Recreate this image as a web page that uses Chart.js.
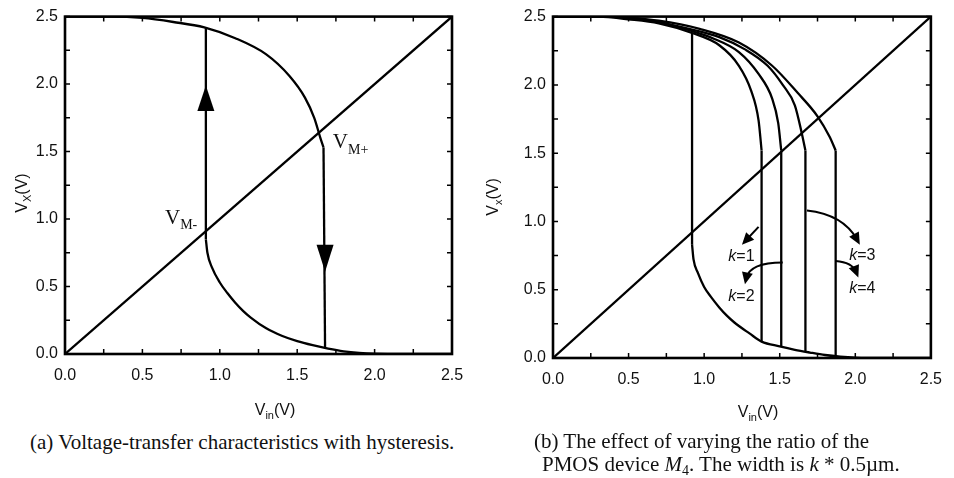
<!DOCTYPE html>
<html lang="en">
<head>
<meta charset="UTF-8">
<title>Inverter VTC with hysteresis</title>
<script src="https://cdn.jsdelivr.net/npm/chart.js@4"></script>
<style>
  body { margin: 0; background: #fff; width: 954px; height: 478px; position: relative; overflow: hidden; }
  .plot { position: absolute; top: 0; }
  .cap { position: absolute; font-family: "Liberation Serif", "Times New Roman", serif; font-size: 21px;
         color: #111; white-space: nowrap; line-height: 23px; }
  .cap sub { font-size: 14px; line-height: 0; vertical-align: -4px; }
</style>
</head>
<body>
<div class="plot" style="left:0"><canvas id="chartA" width="480" height="430"></canvas></div>
<div class="plot" style="left:480px"><canvas id="chartB" width="474" height="430"></canvas></div>
<div class="cap" style="left:30px;top:431px">(a) Voltage-transfer characteristics with hysteresis.</div>
<div class="cap" style="left:534px;top:430px">(b) The effect of varying the ratio of the<br><span style="padding-left:8px">PMOS device <i>M</i><sub>4</sub>. The width is <i>k</i> * 0.5µm.</span></div>

<script>
// axis ticks (volts)
const tickValues = [0, 0.5, 1, 1.5, 2, 2.5];
const minorTicks = [0, 0.25, 0.5, 0.75, 1, 1.25, 1.5, 1.75, 2, 2.25, 2.5];

// reference line Vx = Vin
const diagonal = [[0, 0], [2.5, 2.5]];

// (a) hysteresis loop
const upperA = [[0, 2.5], [0.3, 2.5], [0.5, 2.49], [0.7, 2.46], [0.9, 2.42], [1.1, 2.34], [1.3, 2.22],
                [1.45, 2.06], [1.55, 1.9], [1.61, 1.75], [1.65, 1.6], [1.67, 1.53]];
const dropA = [[1.67, 1.53], [1.68, 0.04]];
const riseA = [[0.91, 0.85], [0.91, 2.42]];
const lowerA = [[0.91, 0.85], [0.92, 0.75], [0.95, 0.64], [1.0, 0.53], [1.05, 0.45], [1.1, 0.38], [1.15, 0.32],
                [1.2, 0.27], [1.3, 0.19], [1.4, 0.135], [1.5, 0.095], [1.6, 0.065], [1.7, 0.04], [1.8, 0.02],
                [1.9, 0.008], [2.0, 0.002], [2.2, 0], [2.5, 0]];
// direction arrows on the switching edges: x, arrow base, arrow tip
const arrowsA = [[0.91, 1.80, 1.99], [1.68, 0.81, 0.61]];

// (b) switching curves for k = 1..4
const k1 = [[0, 2.5], [0.3, 2.5], [0.5, 2.48], [0.7, 2.45], [0.92, 2.38], [1.1, 2.29], [1.23, 2.14],
            [1.31, 1.96], [1.36, 1.74], [1.38, 1.52]];
const k2 = [[0, 2.5], [0.3, 2.5], [0.5, 2.49], [0.7, 2.46], [0.9, 2.4], [1.06, 2.34], [1.23, 2.24],
            [1.36, 2.08], [1.45, 1.9], [1.49, 1.72], [1.51, 1.52]];
const k3 = [[0, 2.5], [0.3, 2.5], [0.5, 2.49], [0.7, 2.46], [0.9, 2.41], [1.1, 2.35], [1.27, 2.26],
            [1.42, 2.14], [1.52, 2.0], [1.6, 1.85], [1.645, 1.65], [1.67, 1.52]];
const k4 = [[0, 2.5], [0.3, 2.5], [0.5, 2.49], [0.7, 2.47], [0.97, 2.41], [1.23, 2.31], [1.45, 2.14],
            [1.62, 1.94], [1.75, 1.77], [1.83, 1.62], [1.87, 1.52]];
// vertical drops: x, top, bottom
const dropsB = [[1.38, 1.52, 0.12], [1.51, 1.52, 0.08], [1.67, 1.52, 0.045], [1.87, 1.52, 0.012]];
const riseB = [[0.92, 0.83], [0.92, 2.38]];
const lowerB = [[0.92, 0.83], [0.93, 0.72], [0.96, 0.62], [1.0, 0.52], [1.05, 0.44], [1.1, 0.37], [1.15, 0.31],
                [1.2, 0.26], [1.3, 0.18], [1.38, 0.12], [1.5, 0.085], [1.6, 0.06], [1.7, 0.04], [1.8, 0.022],
                [1.9, 0.01], [2.0, 0.003], [2.2, 0], [2.5, 0]];
// k labels and their pointer arrows (start, control, end)
const kLabels = [['1', 1.16, 0.74], ['2', 1.16, 0.45], ['3', 1.96, 0.75], ['4', 1.96, 0.51]];
const kPointers = [
  [[1.36, 0.96], [1.305, 0.895], [1.25, 0.83]],
  [[1.52, 0.70], [1.30, 0.70], [1.27, 0.54]],
  [[1.68, 1.08], [1.92, 1.05], [2.03, 0.83]],
  [[1.87, 0.71], [1.98, 0.70], [2.02, 0.59]]
];

const SANS = '"Liberation Sans", Arial, Helvetica, sans-serif';
const SERIF = '"Liberation Serif", "Times New Roman", serif';

function line(pts, smooth) {
  return {
    data: pts.map(([x, y]) => ({ x, y })),
    showLine: true, borderColor: '#000', borderWidth: 2.3,
    pointRadius: 0, fill: false,
    cubicInterpolationMode: smooth ? 'monotone' : 'default', tension: 0
  };
}

// text with a lowered subscript, optionally followed by more text
function subText(ctx, x, y, parts, align) {
  let w = 0;
  for (const p of parts) { ctx.font = p.font; w += ctx.measureText(p.t).width; }
  let cx = align === 'center' ? x - w / 2 : x;
  for (const p of parts) {
    ctx.font = p.font;
    ctx.fillText(p.t, cx, y + (p.dy || 0));
    cx += ctx.measureText(p.t).width;
  }
}

function arrowHead(ctx, x0, y0, x1, y1, len, half) {
  const a = Math.atan2(y1 - y0, x1 - x0);
  ctx.beginPath();
  ctx.moveTo(x1, y1);
  ctx.lineTo(x1 - len * Math.cos(a) + half * Math.sin(a), y1 - len * Math.sin(a) - half * Math.cos(a));
  ctx.lineTo(x1 - len * Math.cos(a) - half * Math.sin(a), y1 - len * Math.sin(a) + half * Math.cos(a));
  ctx.closePath();
  ctx.fill();
}

// boxed frame, inward ticks on all sides, axis titles and notes
const framePlugin = {
  id: 'frame',
  afterDatasetsDraw(chart, args, o) {
    const { ctx, chartArea: a, scales: { x, y } } = chart;
    ctx.save();
    ctx.strokeStyle = '#000';
    ctx.fillStyle = '#000';
    ctx.lineWidth = 1.5;
    ctx.beginPath();
    for (const v of minorTicks) {
      const px = x.getPixelForValue(v), py = y.getPixelForValue(v);
      ctx.moveTo(px, a.bottom); ctx.lineTo(px, a.bottom - 5);
      ctx.moveTo(px, a.top); ctx.lineTo(px, a.top + 5);
      ctx.moveTo(a.left, py); ctx.lineTo(a.left + 5, py);
      ctx.moveTo(a.right, py); ctx.lineTo(a.right - 5, py);
    }
    ctx.stroke();
    ctx.lineWidth = 2.6;
    ctx.strokeRect(a.left, a.top, a.width, a.height);

    // axis titles
    ctx.fillStyle = '#111';
    ctx.textBaseline = 'alphabetic';
    subText(ctx, o.xTitle[0], o.xTitle[1], [
      { t: 'V', font: '16px ' + SANS },
      { t: 'in', font: '11px ' + SANS, dy: 4 },
      { t: '(V)', font: '16px ' + SANS }
    ], 'center');
    ctx.save();
    ctx.translate(o.yTitle[0], o.yTitle[1]);
    ctx.rotate(-Math.PI / 2);
    subText(ctx, 0, 0, [
      { t: 'V', font: '16px ' + SANS },
      { t: o.ySub, font: '11px ' + SANS, dy: 4 },
      { t: '(V)', font: '16px ' + SANS }
    ], 'center');
    ctx.restore();

    if (o.notes) o.notes(ctx, x, y);
    ctx.restore();
  }
};

function notesA(ctx, x, y) {
  ctx.fillStyle = '#000';
  for (const [vx, base, tip] of arrowsA) {
    const px = x.getPixelForValue(vx), pb = y.getPixelForValue(base), pt = y.getPixelForValue(tip);
    ctx.beginPath();
    ctx.moveTo(px, pt); ctx.lineTo(px - 8.5, pb); ctx.lineTo(px + 8.5, pb);
    ctx.closePath(); ctx.fill();
  }
  ctx.fillStyle = '#111';
  subText(ctx, x.getPixelForValue(0.646), y.getPixelForValue(0.96), [
    { t: 'V', font: '21px ' + SERIF },
    { t: 'M-', font: '14px ' + SERIF, dy: 5 }
  ]);
  subText(ctx, x.getPixelForValue(1.73), y.getPixelForValue(1.53), [
    { t: 'V', font: '21px ' + SERIF },
    { t: 'M+', font: '14px ' + SERIF, dy: 6 }
  ]);
}

function notesB(ctx, x, y) {
  ctx.fillStyle = '#000';
  ctx.strokeStyle = '#000';
  ctx.lineWidth = 2;
  for (const [s, c, e] of kPointers) {
    const p0 = [x.getPixelForValue(s[0]), y.getPixelForValue(s[1])];
    const p1 = [x.getPixelForValue(c[0]), y.getPixelForValue(c[1])];
    const p2 = [x.getPixelForValue(e[0]), y.getPixelForValue(e[1])];
    // stop the shaft short of the tip so the head stays sharp
    const a = Math.atan2(p2[1] - p1[1], p2[0] - p1[0]);
    ctx.beginPath();
    ctx.moveTo(p0[0], p0[1]);
    ctx.quadraticCurveTo(p1[0], p1[1], p2[0] - 6 * Math.cos(a), p2[1] - 6 * Math.sin(a));
    ctx.stroke();
    arrowHead(ctx, p1[0], p1[1], p2[0], p2[1], 12, 5.5);
  }
  ctx.fillStyle = '#111';
  ctx.textBaseline = 'middle';
  for (const [n, vx, vy] of kLabels) {
    subText(ctx, x.getPixelForValue(vx), y.getPixelForValue(vy), [
      { t: 'k', font: 'italic 16px ' + SANS },
      { t: '=' + n, font: '16px ' + SANS }
    ]);
  }
}

function makeChart(id, datasets, dims, plug) {
  const tickFont = { family: SANS, size: 16 };
  return new Chart(document.getElementById(id), {
    type: 'scatter',
    data: { datasets },
    options: {
      responsive: false, animation: false, devicePixelRatio: 1,
      layout: { padding: { top: dims.top, right: dims.right, left: 0, bottom: 0 } },
      plugins: { legend: { display: false }, tooltip: { enabled: false }, frame: plug },
      scales: {
        x: {
          type: 'linear', min: 0, max: 2.5,
          afterBuildTicks: s => { s.ticks = tickValues.map(v => ({ value: v })); },
          afterFit: s => { s.height = dims.xh; },
          ticks: { font: tickFont, color: '#111', padding: 12, maxRotation: 0, autoSkip: false,
                   callback: v => v.toFixed(1) },
          grid: { display: false, drawTicks: false }, border: { display: false }
        },
        y: {
          type: 'linear', min: 0, max: 2.5,
          afterBuildTicks: s => { s.ticks = tickValues.map(v => ({ value: v })); },
          afterFit: s => { s.width = dims.yw; },
          ticks: { font: tickFont, color: '#111', padding: 7, autoSkip: false,
                   callback: v => v.toFixed(1) },
          grid: { display: false, drawTicks: false }, border: { display: false }
        }
      }
    },
    plugins: [framePlugin]
  });
}

makeChart('chartA', [
  line(diagonal), line(upperA, true), line(dropA), line(riseA), line(lowerA, true)
], { top: 12, right: 28, xh: 76, yw: 65 },
{ xTitle: [275, 415], yTitle: [27, 193], ySub: 'X', notes: notesA });

makeChart('chartB', [
  line(diagonal), line(k1, true), line(k2, true), line(k3, true), line(k4, true),
  ...dropsB.map(([vx, top, bot]) => line([[vx, top], [vx, bot]])),
  line(riseB), line(lowerB, true)
], { top: 13, right: 14, xh: 72, yw: 73 },
{ xTitle: [278, 417], yTitle: [18, 197], ySub: 'x', notes: notesB });
</script>
</body>
</html>
